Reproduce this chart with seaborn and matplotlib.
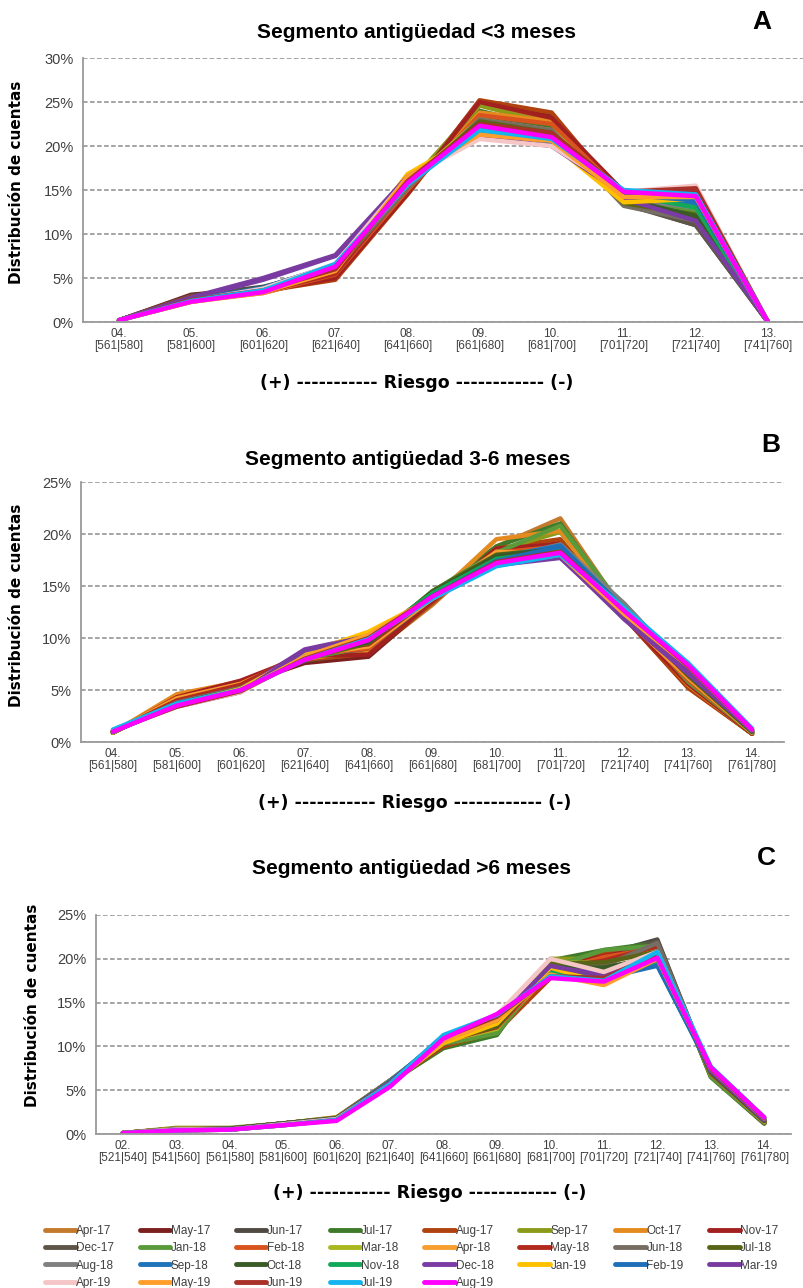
import numpy as np
import pandas as pd
import matplotlib
matplotlib.use("Agg")
import matplotlib.pyplot as plt
import seaborn as sns

# --- series (one per month) ---
MONTHS = ["Apr-17", "May-17", "Jun-17", "Jul-17", "Aug-17", "Sep-17", "Oct-17", "Nov-17",
          "Dec-17", "Jan-18", "Feb-18", "Mar-18", "Apr-18", "May-18", "Jun-18", "Jul-18",
          "Aug-18", "Sep-18", "Oct-18", "Nov-18", "Dec-18", "Jan-19", "Feb-19", "Mar-19",
          "Apr-19", "May-19", "Jun-19", "Jul-19", "Aug-19"]
COLORS = ["#C47A2C", "#7B1F1F", "#4F4A42", "#3E7A2A", "#B0420F", "#8C9A1A", "#E58A1E", "#A32020",
          "#5E5548", "#5A9A3A", "#D9531E", "#A9B81F", "#F79E2E", "#B22A1E", "#766E62", "#5A6416",
          "#808080", "#1F73B8", "#3A5A26", "#11A85A", "#7B3BA5", "#FFC000", "#1F6FB8", "#7A3BA0",
          "#F5C6C6", "#FF9E2A", "#A8322A", "#14B4EE", "#FF00FF"]

# --- panel A: antiguedad < 3 meses ---
CATS_A = ["04.\n[561|580]", "05.\n[581|600]", "06.\n[601|620]", "07.\n[621|640]", "08.\n[641|660]",
          "09.\n[661|680]", "10.\n[681|700]", "11.\n[701|720]", "12.\n[721|740]", "13.\n[741|760]"]
VALUES_A = [
    [0.2, 2.9, 3.6, 5.2, 14.5, 24.8, 23.0, 14.2, 12.0, 0.0],
    [0.2, 3.1, 3.8, 5.0, 14.8, 25.0, 23.5, 14.0, 11.5, 0.0],
    [0.2, 3.0, 4.0, 6.0, 15.0, 23.5, 22.5, 13.5, 11.0, 0.0],
    [0.2, 2.8, 3.8, 5.8, 15.2, 24.0, 22.0, 13.8, 11.2, 0.0],
    [0.2, 2.9, 3.5, 4.8, 14.5, 25.2, 23.8, 14.0, 11.8, 0.0],
    [0.2, 2.7, 3.6, 5.5, 15.5, 24.6, 22.5, 13.6, 11.5, 0.0],
    [0.2, 2.5, 3.4, 5.3, 15.0, 23.8, 22.8, 14.2, 12.5, 0.0],
    [0.2, 2.6, 3.5, 5.0, 14.6, 25.0, 23.2, 14.8, 14.8, 0.0],
    [0.2, 2.8, 3.9, 6.2, 15.3, 23.2, 21.8, 13.4, 11.0, 0.0],
    [0.2, 2.5, 3.6, 5.8, 15.6, 23.0, 21.5, 14.0, 12.5, 0.0],
    [0.2, 2.4, 3.3, 5.4, 15.0, 23.5, 22.5, 14.5, 13.5, 0.0],
    [0.2, 2.4, 3.5, 5.6, 15.8, 23.0, 21.8, 14.2, 13.0, 0.0],
    [0.2, 2.3, 3.3, 5.6, 16.0, 21.5, 20.5, 14.0, 14.0, 0.0],
    [0.2, 2.4, 3.4, 5.5, 15.4, 22.5, 21.5, 14.8, 15.0, 0.0],
    [0.2, 2.6, 3.8, 6.0, 15.2, 23.0, 21.8, 13.2, 11.5, 0.0],
    [0.2, 2.5, 3.7, 6.0, 15.6, 22.8, 21.5, 13.5, 12.2, 0.0],
    [0.2, 2.5, 3.6, 6.2, 15.5, 22.2, 21.2, 14.0, 13.0, 0.0],
    [0.2, 2.4, 3.8, 6.4, 15.8, 22.0, 20.8, 14.3, 13.5, 0.0],
    [0.2, 2.6, 3.9, 6.5, 15.8, 22.5, 21.0, 14.0, 12.0, 0.0],
    [0.2, 2.3, 3.6, 6.3, 16.0, 22.0, 20.8, 14.5, 13.0, 0.0],
    [0.2, 2.7, 4.8, 7.5, 16.2, 21.8, 20.5, 14.0, 11.5, 0.0],
    [0.2, 2.3, 3.4, 6.0, 16.8, 21.5, 20.3, 13.6, 14.0, 0.0],
    [0.2, 2.5, 3.9, 6.5, 16.0, 21.8, 20.5, 14.5, 13.8, 0.0],
    [0.2, 2.8, 5.0, 7.6, 16.5, 21.0, 20.0, 14.5, 15.2, 0.0],
    [0.2, 2.4, 3.8, 6.6, 16.4, 20.8, 20.0, 14.8, 15.5, 0.0],
    [0.2, 2.3, 3.4, 5.8, 16.5, 21.3, 20.6, 14.2, 14.2, 0.0],
    [0.2, 2.5, 3.6, 6.0, 16.0, 22.5, 21.5, 14.8, 15.2, 0.0],
    [0.2, 2.4, 3.6, 6.6, 15.6, 21.8, 20.8, 15.0, 14.5, 0.0],
    [0.2, 2.3, 3.4, 6.3, 15.8, 22.3, 21.0, 14.8, 14.3, 0.0],
]

# --- panel B: antiguedad 3-6 meses ---
CATS_B = ["04.\n[561|580]", "05.\n[581|600]", "06.\n[601|620]", "07.\n[621|640]", "08.\n[641|660]",
          "09.\n[661|680]", "10.\n[681|700]", "11.\n[701|720]", "12.\n[721|740]", "13.\n[741|760]",
          "14.\n[761|780]"]
VALUES_B = [
    [0.9, 4.5, 5.6, 7.8, 8.4, 13.2, 18.8, 21.5, 12.5, 5.5, 0.8],
    [0.9, 4.2, 5.5, 7.6, 8.2, 13.5, 18.5, 19.3, 12.0, 5.3, 0.8],
    [0.9, 4.0, 5.4, 7.8, 8.6, 13.6, 18.2, 19.0, 12.2, 5.6, 0.9],
    [0.9, 4.1, 5.5, 8.0, 8.8, 14.2, 18.8, 21.0, 12.5, 5.4, 0.8],
    [0.9, 4.3, 5.8, 7.9, 8.5, 13.4, 18.6, 19.5, 12.0, 5.2, 0.8],
    [0.9, 4.2, 5.6, 8.1, 9.0, 14.0, 18.4, 20.2, 12.6, 5.8, 0.9],
    [0.9, 4.6, 5.8, 8.0, 8.8, 13.8, 19.5, 20.3, 12.3, 5.5, 0.8],
    [0.9, 4.3, 5.9, 8.3, 8.4, 13.6, 18.6, 19.0, 12.0, 5.6, 0.8],
    [0.9, 4.0, 5.4, 8.2, 9.0, 13.8, 18.0, 18.8, 12.8, 6.0, 0.9],
    [0.9, 3.9, 5.3, 8.0, 9.2, 14.5, 18.2, 20.8, 12.8, 5.8, 0.9],
    [0.9, 4.1, 5.6, 8.4, 9.0, 14.0, 18.2, 18.8, 12.2, 6.0, 0.9],
    [0.9, 3.9, 5.4, 8.2, 9.4, 14.4, 18.0, 18.6, 12.6, 6.2, 0.9],
    [1.0, 4.2, 5.6, 8.3, 9.2, 13.8, 18.3, 18.0, 12.0, 6.2, 1.0],
    [1.0, 4.0, 5.5, 8.6, 9.4, 14.0, 17.8, 18.5, 12.4, 6.4, 1.0],
    [1.0, 3.8, 5.2, 8.2, 9.6, 14.2, 17.8, 18.8, 13.3, 6.6, 1.0],
    [1.0, 3.7, 5.1, 8.0, 9.5, 14.5, 18.0, 18.6, 12.8, 6.4, 1.0],
    [1.0, 3.6, 5.0, 8.2, 9.8, 14.2, 17.6, 19.0, 13.3, 6.8, 1.0],
    [1.0, 3.7, 5.1, 8.3, 9.8, 14.0, 17.7, 18.9, 12.8, 7.0, 1.1],
    [1.0, 3.6, 5.0, 8.4, 9.6, 14.4, 17.9, 18.6, 12.6, 6.6, 1.0],
    [1.0, 3.5, 4.9, 8.1, 9.9, 14.3, 17.6, 18.4, 12.9, 7.0, 1.1],
    [1.0, 3.5, 5.0, 8.9, 10.2, 14.0, 17.2, 17.8, 11.8, 6.6, 1.1],
    [1.1, 3.6, 5.1, 8.5, 10.6, 13.8, 17.2, 17.9, 12.2, 7.2, 1.2],
    [1.1, 3.5, 4.9, 8.2, 10.0, 14.0, 17.4, 18.8, 12.8, 7.3, 1.2],
    [1.1, 3.4, 4.8, 8.8, 10.2, 13.8, 17.0, 17.7, 12.0, 6.9, 1.1],
    [1.1, 3.4, 4.8, 8.1, 10.0, 13.8, 17.0, 18.1, 12.6, 7.4, 1.2],
    [1.1, 3.5, 4.9, 8.2, 10.3, 13.9, 17.1, 18.0, 12.3, 7.3, 1.2],
    [1.1, 3.4, 4.9, 8.0, 10.0, 14.0, 17.3, 18.3, 12.7, 7.3, 1.2],
    [1.2, 3.7, 5.0, 7.9, 9.9, 13.8, 16.9, 18.0, 12.9, 7.6, 1.3],
    [1.0, 3.5, 5.0, 7.9, 9.8, 14.0, 17.2, 18.2, 12.6, 7.4, 1.2],
]

# --- panel C: antiguedad > 6 meses ---
CATS_C = ["02.\n[521|540]", "03.\n[541|560]", "04.\n[561|580]", "05.\n[581|600]", "06.\n[601|620]",
          "07.\n[621|640]", "08.\n[641|660]", "09.\n[661|680]", "10.\n[681|700]", "11.\n[701|720]",
          "12.\n[721|740]", "13.\n[741|760]", "14.\n[761|780]"]
VALUES_C = [
    [0.1, 0.6, 0.6, 1.2, 1.8, 5.8, 10.0, 11.5, 19.0, 20.2, 21.5, 6.8, 1.3],
    [0.1, 0.6, 0.6, 1.2, 1.8, 5.9, 10.0, 11.6, 19.2, 20.0, 21.6, 6.6, 1.2],
    [0.1, 0.6, 0.6, 1.2, 1.8, 6.0, 10.2, 11.8, 19.5, 20.5, 22.2, 6.8, 1.3],
    [0.1, 0.6, 0.6, 1.2, 1.8, 5.9, 9.8, 11.3, 19.8, 21.0, 21.8, 6.5, 1.2],
    [0.1, 0.6, 0.6, 1.1, 1.8, 6.0, 10.0, 11.7, 17.8, 20.6, 21.6, 6.8, 1.3],
    [0.1, 0.7, 0.7, 1.2, 1.9, 6.0, 10.2, 11.6, 20.0, 20.0, 21.2, 6.7, 1.3],
    [0.1, 0.6, 0.6, 1.2, 1.9, 6.1, 10.3, 11.9, 18.5, 19.5, 21.0, 6.9, 1.4],
    [0.1, 0.6, 0.6, 1.2, 1.8, 6.0, 10.2, 11.8, 19.0, 20.3, 21.4, 6.7, 1.3],
    [0.1, 0.6, 0.6, 1.2, 1.8, 6.0, 10.4, 12.0, 19.3, 19.8, 22.0, 6.9, 1.3],
    [0.1, 0.6, 0.6, 1.2, 1.8, 6.0, 10.3, 11.5, 19.0, 21.0, 21.5, 6.6, 1.3],
    [0.1, 0.6, 0.6, 1.2, 1.8, 6.1, 10.5, 12.2, 18.5, 20.2, 21.2, 6.9, 1.4],
    [0.1, 0.6, 0.6, 1.2, 1.8, 6.1, 10.6, 12.0, 19.5, 19.6, 21.0, 7.0, 1.4],
    [0.1, 0.5, 0.5, 1.1, 1.7, 5.9, 10.4, 12.4, 18.4, 18.0, 20.6, 7.2, 1.5],
    [0.1, 0.5, 0.6, 1.1, 1.7, 6.0, 10.6, 12.2, 18.8, 19.8, 21.4, 7.0, 1.5],
    [0.1, 0.5, 0.6, 1.2, 1.8, 6.1, 10.8, 12.5, 19.0, 19.2, 21.8, 7.1, 1.5],
    [0.1, 0.5, 0.6, 1.2, 1.8, 6.0, 10.6, 12.3, 19.4, 19.6, 20.8, 7.0, 1.5],
    [0.1, 0.5, 0.6, 1.2, 1.8, 6.1, 10.8, 12.6, 18.8, 18.6, 20.4, 7.2, 1.6],
    [0.1, 0.5, 0.5, 1.1, 1.7, 6.0, 10.9, 12.8, 18.6, 18.2, 19.4, 7.3, 1.6],
    [0.1, 0.5, 0.6, 1.2, 1.8, 6.0, 10.8, 12.5, 19.0, 19.0, 20.2, 7.1, 1.5],
    [0.1, 0.5, 0.5, 1.1, 1.7, 6.0, 11.0, 12.8, 18.4, 18.4, 19.3, 7.3, 1.6],
    [0.1, 0.5, 0.5, 1.1, 1.7, 5.9, 11.0, 13.0, 19.0, 18.3, 20.0, 7.2, 1.6],
    [0.1, 0.5, 0.5, 1.1, 1.7, 5.8, 10.4, 12.6, 19.0, 17.2, 20.2, 7.4, 1.7],
    [0.1, 0.5, 0.5, 1.1, 1.7, 5.9, 11.2, 13.3, 18.0, 17.8, 19.2, 7.4, 1.7],
    [0.1, 0.5, 0.5, 1.1, 1.7, 5.9, 11.0, 13.0, 19.2, 18.0, 20.6, 7.3, 1.6],
    [0.1, 0.5, 0.5, 1.1, 1.7, 5.7, 11.2, 13.6, 20.0, 18.5, 20.8, 7.5, 1.8],
    [0.1, 0.4, 0.5, 1.0, 1.6, 5.6, 10.6, 13.0, 18.2, 17.0, 20.0, 7.6, 1.8],
    [0.1, 0.4, 0.5, 1.0, 1.6, 5.7, 11.0, 13.4, 18.0, 17.8, 20.5, 7.5, 1.8],
    [0.1, 0.4, 0.5, 1.0, 1.6, 5.7, 11.3, 13.6, 18.0, 17.5, 20.8, 7.7, 1.9],
    [0.1, 0.4, 0.5, 1.0, 1.5, 5.4, 10.9, 13.7, 17.8, 17.4, 20.1, 7.6, 1.9],
]

TITLES = ["Segmento antigüedad <3 meses", "Segmento antigüedad 3-6 meses", "Segmento antigüedad >6 meses"]
LETTERS = ["A", "B", "C"]
YMAX = [30, 25, 25]
XLABEL = "(+) ----------- Riesgo ------------ (-)"
YLABEL = "Distribución de cuentas"

sns.set_theme(style="white")
NARROW = ["Liberation Sans Narrow", "Liberation Sans", "DejaVu Sans"]
plt.rcParams["font.family"] = NARROW

W, H = 804, 1288
fig = plt.figure(figsize=(W / 100, H / 100), dpi=100)


def px_axes(left, top, right, bottom):
    # pixel box -> figure fraction
    return fig.add_axes([left / W, 1 - bottom / H, (right - left) / W, (bottom - top) / H])


def draw_panel(ax, cats, values, ymax):
    rows = []
    for month, vals in zip(MONTHS, values):
        for i, v in enumerate(vals):
            rows.append({"mes": month, "pos": i, "valor": v})
    df = pd.DataFrame(rows)
    sns.lineplot(data=df, x="pos", y="valor", hue="mes", hue_order=MONTHS,
                 palette=COLORS, linewidth=3.2, sort=False, legend=False, ax=ax,
                 solid_capstyle="round", solid_joinstyle="round")
    n = len(cats)
    ax.set_xlim(-0.5, n - 0.5)
    ax.set_ylim(0, ymax)
    ax.set_xticks(np.arange(n + 1) - 0.5)
    ax.set_xticklabels([])
    ax.set_xticks(np.arange(n), minor=True)
    ax.set_xticklabels(cats, minor=True, fontsize=8.5, color="#404040", linespacing=1.1)
    ax.tick_params(axis="x", which="major", length=5, width=1, color="#9a9a9a", direction="out")
    ax.tick_params(axis="x", which="minor", length=0, pad=4)
    yt = np.arange(0, ymax + 1, 5)
    ax.set_yticks(yt)
    ax.set_yticklabels([f"{v}%" for v in yt], fontsize=10.5, color="#404040")
    ax.tick_params(axis="y", length=5, width=1, color="#9a9a9a", direction="out", pad=2)
    ax.yaxis.grid(True, linestyle=(0, (3, 1.6)), color="#8c8c8c", linewidth=1.1)
    ax.set_axisbelow(True)
    for s in ["top", "right"]:
        ax.spines[s].set_visible(False)
    for s in ["left", "bottom"]:
        ax.spines[s].set_color("#9a9a9a")
        ax.spines[s].set_linewidth(1.3)
    ax.set_xlabel("")
    ax.set_ylabel("")


# pixel boxes of the three plot areas, plus text anchors
BOXES = [(83, 58, 804, 322), (81, 482, 784, 742), (96, 915, 791, 1134)]
TITLE_POS = [(417, 33), (408, 459), (412, 868)]
LETTER_POS = [(762, 22), (771, 445), (766, 858)]
XLABEL_POS = [(417, 383), (415, 803), (430, 1193)]
YLABEL_POS = [(17, 182), (17, 605), (33, 1005)]

all_cats = [CATS_A, CATS_B, CATS_C]
all_vals = [VALUES_A, VALUES_B, VALUES_C]

axes = []
for k in range(3):
    ax = px_axes(*BOXES[k])
    draw_panel(ax, all_cats[k], all_vals[k], YMAX[k])
    axes.append(ax)
    tx, ty = TITLE_POS[k]
    fig.text(tx / W, 1 - ty / H, TITLES[k], ha="center", va="center",
             fontsize=15, fontweight="bold", color="black")
    lx, ly = LETTER_POS[k]
    fig.text(lx / W, 1 - ly / H, LETTERS[k], ha="center", va="center",
             fontsize=19, fontweight="bold", color="black", family=["Liberation Sans", "DejaVu Sans"])
    xx, xy = XLABEL_POS[k]
    fig.text(xx / W, 1 - xy / H, XLABEL, ha="center", va="center",
             fontsize=12.5, fontweight="bold", color="black", family=["DejaVu Sans"])
    yx, yy = YLABEL_POS[k]
    fig.text(yx / W, 1 - yy / H, YLABEL, ha="center", va="center",
             rotation=90, fontsize=11, fontweight="bold", color="black",
             family=["DejaVu Sans"])

# legend below the last panel; reorder so rows read left to right
handles = axes[2].get_lines()[:len(MONTHS)]
ncol, nrow = 8, 4
order = [r * ncol + c for c in range(ncol) for r in range(nrow) if r * ncol + c < len(MONTHS)]
leg = fig.legend([handles[i] for i in order], [MONTHS[i] for i in order],
                 loc="upper left", bbox_to_anchor=(45 / W, 1 - 1225 / H),
                 ncol=ncol, frameon=False, fontsize=8.5, handlelength=2.6, handletextpad=0.05,
                 columnspacing=2.15, labelspacing=0.45, borderaxespad=0, borderpad=0)
for t in leg.get_texts():
    t.set_color("#404040")
for h in leg.get_lines():
    h.set_linewidth(3.5)

fig.savefig("out.png", dpi=100)
